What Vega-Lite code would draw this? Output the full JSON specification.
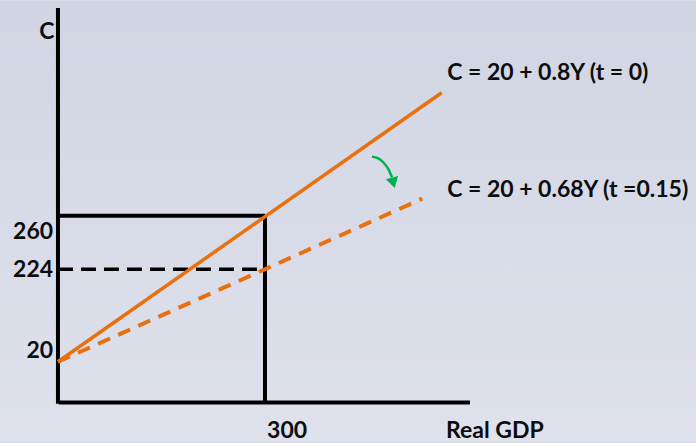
{
  "$schema": "https://vega.github.io/schema/vega-lite/v6.json",
  "width": 696,
  "height": 443,
  "autosize": {"type": "fit", "contains": "padding"},
  "padding": 0,
  "background": "#d9dce9",
  "config": {"view": {"stroke": null}, "text": {"font": "Lato", "fontWeight": "bold", "fontSize": 23, "color": "#0d0d0d"}},
  "datasets": {
    "bg": [
      {"Y": -84, "Y2": 924.6, "C": -110.2, "C2": 612.7}
    ],
    "axes": [
      {"seg": "yaxis", "Y": 0, "C": 601},
      {"seg": "yaxis", "Y": 0, "C": -49},
      {"seg": "xaxis", "Y": 1, "C": -47},
      {"seg": "xaxis", "Y": 597, "C": -47},
      {"seg": "top", "Y": 0, "C": 260},
      {"seg": "top", "Y": 300, "C": 260},
      {"seg": "vert", "Y": 300, "C": 260},
      {"seg": "vert", "Y": 300, "C": -47}
    ],
    "dashblack": [
      {"Y": 0, "C": 172},
      {"Y": 300, "C": 172}
    ],
    "solid": [
      {"Y": 0, "C": 20},
      {"Y": 556, "C": 462}
    ],
    "dashed": [
      {"Y": 0, "C": 20},
      {"Y": 300, "C": 172},
      {"Y": 528, "C": 288}
    ],
    "arrow": [
      {"Y": 455, "C": 357},
      {"Y": 464, "C": 354},
      {"Y": 472, "C": 347},
      {"Y": 479, "C": 336},
      {"Y": 484, "C": 323}
    ],
    "head": [
      {"Y": 486, "C": 314}
    ],
    "ticklabels": [
      {"Y": -7, "C": 233, "t": "260"},
      {"Y": -7, "C": 170, "t": "224"},
      {"Y": -7, "C": 38, "t": "20"}
    ],
    "labels": [
      {"Y": -16, "C": 562, "t": "C"},
      {"Y": 332, "C": -93, "t": "300"},
      {"Y": 633, "C": -93, "t": "Real GDP"}
    ],
    "eq": [
      {"Y": 564, "C": 495, "t": "C = 20 + 0.8Y (t = 0)"},
      {"Y": 564, "C": 302, "t": "C = 20 + 0.68Y (t =0.15)"}
    ]
  },
  "encoding": {
    "x": {"field": "Y", "type": "quantitative", "scale": {"domain": [-84, 924.6], "nice": false, "zero": false}, "axis": null},
    "y": {"field": "C", "type": "quantitative", "scale": {"domain": [-110.2, 612.7], "nice": false, "zero": false}, "axis": null}
  },
  "layer": [
    {
      "data": {"name": "bg"},
      "mark": {"type": "rect", "color": {"gradient": "linear", "x1": 0, "y1": 0, "x2": 0, "y2": 1, "stops": [{"offset": 0, "color": "#d1d5e3"}, {"offset": 1, "color": "#dfe2ec"}]}},
      "encoding": {"x2": {"field": "Y2"}, "y2": {"field": "C2"}}
    },
    {
      "data": {"name": "axes"},
      "mark": {"type": "line", "color": "#000000", "strokeWidth": 4, "strokeCap": "butt"},
      "encoding": {"detail": {"field": "seg"}, "order": {"value": 0}}
    },
    {
      "data": {"name": "dashblack"},
      "mark": {"type": "line", "color": "#000000", "strokeWidth": 3.5, "strokeDash": [15, 8]}
    },
    {
      "data": {"name": "solid"},
      "mark": {"type": "line", "color": "#e8700f", "strokeWidth": 3.5}
    },
    {
      "data": {"name": "dashed"},
      "mark": {"type": "line", "color": "#e8700f", "strokeWidth": 4, "strokeDash": [13, 9]}
    },
    {
      "data": {"name": "arrow"},
      "mark": {"type": "line", "color": "#00b050", "strokeWidth": 2.5, "interpolate": "monotone"}
    },
    {
      "data": {"name": "head"},
      "mark": {"type": "point", "shape": "triangle-down", "filled": true, "color": "#00b050", "size": 160, "angle": -15, "opacity": 1}
    },
    {
      "data": {"name": "ticklabels"},
      "mark": {"type": "text", "baseline": "middle", "align": "right"},
      "encoding": {"text": {"field": "t"}}
    },
    {
      "data": {"name": "labels"},
      "mark": {"type": "text", "baseline": "middle", "align": "center"},
      "encoding": {"text": {"field": "t"}}
    },
    {
      "data": {"name": "eq"},
      "mark": {"type": "text", "baseline": "middle", "align": "left"},
      "encoding": {"text": {"field": "t"}}
    }
  ]
}
